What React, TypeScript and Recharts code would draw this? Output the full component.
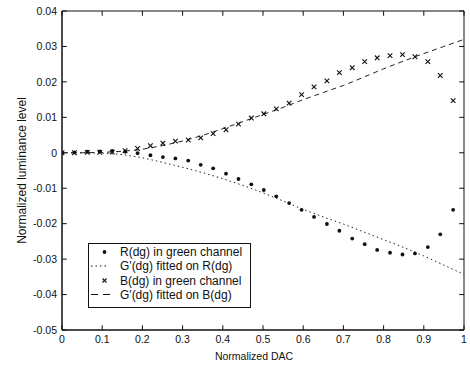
import React from 'react';
import { ComposedChart, Scatter, Line, XAxis, YAxis, Legend, ReferenceArea, ReferenceLine } from 'recharts';

// Normalized DAC levels of the measured points
const dacLevels = [
  0, 0.031, 0.063, 0.094, 0.125, 0.157, 0.188, 0.22, 0.251, 0.282, 0.314, 0.345,
  0.376, 0.408, 0.439, 0.471, 0.502, 0.533, 0.565, 0.596, 0.627, 0.659, 0.69,
  0.722, 0.753, 0.784, 0.816, 0.847, 0.878, 0.91, 0.941, 0.973,
];
// R(dg) in green channel
const rValues = [
  0, 0.0001, 0.0003, 0.0004, 0.0005, 0.0003, -0.0001, -0.0007, -0.0012, -0.0016,
  -0.0022, -0.0034, -0.0044, -0.0059, -0.0074, -0.0089, -0.0105, -0.0123, -0.0142,
  -0.0161, -0.0181, -0.0201, -0.022, -0.0242, -0.0258, -0.0274, -0.0282, -0.0287,
  -0.0284, -0.0266, -0.023, -0.0161,
];
// B(dg) in green channel
const bValues = [
  0, 0, 0.0001, 0.0001, 0.0002, 0.0006, 0.0012, 0.002, 0.0027, 0.0033, 0.0036,
  0.0042, 0.0054, 0.0065, 0.0081, 0.0098, 0.011, 0.0124, 0.014, 0.0164, 0.0186,
  0.0203, 0.0226, 0.024, 0.0257, 0.0268, 0.0274, 0.0277, 0.0271, 0.0257, 0.0218,
  0.0147,
];
// Fitted curves
const fitX = [
  0, 0.05, 0.1, 0.15, 0.2, 0.25, 0.3, 0.35, 0.4, 0.45, 0.5, 0.55, 0.6, 0.65, 0.7,
  0.75, 0.8, 0.85, 0.9, 0.95, 1,
];
const rFitValues = [
  0, 0, -0.0001, -0.0005, -0.0014, -0.0027, -0.0041, -0.0056, -0.0073, -0.0092,
  -0.0113, -0.0136, -0.016, -0.0181, -0.0201, -0.0223, -0.0245, -0.0267, -0.0291,
  -0.0317, -0.0343,
];
const bFitValues = [
  0, 0, 0.0001, 0.0004, 0.001, 0.002, 0.0033, 0.0049, 0.0068, 0.0088, 0.0108,
  0.0128, 0.015, 0.017, 0.019, 0.0213, 0.0237, 0.0259, 0.028, 0.03, 0.032,
];

const xTicks = [0, 0.1, 0.2, 0.3, 0.4, 0.5, 0.6, 0.7, 0.8, 0.9, 1];
const yTicks = [-0.05, -0.04, -0.03, -0.02, -0.01, 0, 0.01, 0.02, 0.03, 0.04];
const xDomain = [0, 1];
const yDomain = [-0.05, 0.04];
const legendLabels = [
  'R(dg) in green channel',
  "G'(dg) fitted on R(dg)",
  'B(dg) in green channel',
  "G'(dg) fitted on B(dg)",
];
const xLabel = 'Normalized DAC';
const yLabel = 'Normalized luminance level';

const rPoints = dacLevels.map((x, i) => ({ x, y: rValues[i] }));
const bPoints = dacLevels.map((x, i) => ({ x, y: bValues[i] }));
const rFit = fitX.map((x, i) => ({ x, y: rFitValues[i] }));
const bFit = fitX.map((x, i) => ({ x, y: bFitValues[i] }));

// inward tick length on all four edges, in axis units (~5px)
const vTickLen = (yDomain[1] - yDomain[0]) * 0.015;
const hTickLen = (xDomain[1] - xDomain[0]) * 0.012;

const FONT = '"Liberation Sans", Arial, sans-serif';
const INK = '#111';

const DotShape = (props: any) => {
  const { cx, cy } = props;
  if (cx == null || cy == null) return null;
  return <circle cx={cx} cy={cy} r={1.9} fill={INK} />;
};

const CrossShape = (props: any) => {
  const { cx, cy } = props;
  if (cx == null || cy == null) return null;
  const s = 2.3;
  return (
    <g stroke={INK} strokeWidth={1.1}>
      <line x1={cx - s} y1={cy - s} x2={cx + s} y2={cy + s} />
      <line x1={cx - s} y1={cy + s} x2={cx + s} y2={cy - s} />
    </g>
  );
};

const LegendBox = () => {
  const rows = [9, 23, 37.5, 51.5];
  return (
    <svg width={164} height={66} style={{ display: 'block', fontFamily: FONT }}>
      <rect x={0.5} y={0.5} width={162} height={64} fill="#fff" stroke={INK} strokeWidth={1} />
      <circle cx={16.5} cy={rows[0]} r={1.9} fill={INK} />
      <line x1={3} x2={21} y1={rows[1]} y2={rows[1]} stroke={INK} strokeDasharray="1.5 3" />
      <g stroke={INK} strokeWidth={1.1}>
        <line x1={14.5} y1={rows[2] - 2} x2={18.5} y2={rows[2] + 2} />
        <line x1={14.5} y1={rows[2] + 2} x2={18.5} y2={rows[2] - 2} />
      </g>
      <line x1={3} x2={22} y1={rows[3]} y2={rows[3]} stroke={INK} strokeDasharray="7 5" />
      {legendLabels.map((t, i) => (
        <text key={t} x={32} y={rows[i]} dominantBaseline="central" fontSize={12} fill={INK}>
          {t}
        </text>
      ))}
    </svg>
  );
};

const tickStyle = { fontSize: 10.5, fill: INK, fontFamily: FONT };

export default function App() {
  return (
    <div style={{ width: 470, height: 365, fontFamily: FONT }}>
      <style>{'html,body{margin:0;padding:0;overflow:hidden}#root{width:470px;height:365px;overflow:visible}'}</style>
      <ComposedChart width={470} height={365} margin={{ top: 11, right: 6, bottom: 0, left: 0 }}>
        <XAxis
          xAxisId="b"
          dataKey="x"
          type="number"
          domain={xDomain}
          ticks={xTicks}
          interval={0}
          allowDataOverflow
          height={35}
          tickLine={false}
          tickSize={0}
          tickMargin={6}
          stroke={INK}
          tick={tickStyle}
          label={{ value: xLabel, position: 'insideBottom', offset: 5, dx: -9, fontSize: 10.5, fill: INK, fontFamily: FONT }}
        />
        <YAxis
          yAxisId="l"
          dataKey="y"
          type="number"
          domain={yDomain}
          ticks={yTicks}
          interval={0}
          allowDataOverflow
          width={62}
          tickLine={false}
          tickSize={0}
          tickMargin={5}
          stroke={INK}
          tick={tickStyle}
          label={{ value: yLabel, angle: -90, position: 'insideLeft', offset: 22, style: { textAnchor: 'middle' }, fontSize: 12, fill: INK, fontFamily: FONT }}
        />
        <ReferenceArea
          xAxisId="b"
          yAxisId="l"
          x1={xDomain[0]}
          x2={xDomain[1]}
          y1={yDomain[0]}
          y2={yDomain[1]}
          fill="none"
          fillOpacity={0}
          stroke={INK}
          strokeWidth={1}
          ifOverflow="visible"
        />
        {xTicks.map((t) => (
          <ReferenceLine
            key={'txt' + t}
            xAxisId="b"
            yAxisId="l"
            segment={[{ x: t, y: yDomain[1] }, { x: t, y: yDomain[1] - vTickLen }]}
            stroke={INK}
            strokeWidth={1}
            ifOverflow="visible"
          />
        ))}
        {xTicks.map((t) => (
          <ReferenceLine
            key={'txb' + t}
            xAxisId="b"
            yAxisId="l"
            segment={[{ x: t, y: yDomain[0] }, { x: t, y: yDomain[0] + vTickLen }]}
            stroke={INK}
            strokeWidth={1}
            ifOverflow="visible"
          />
        ))}
        {yTicks.map((t) => (
          <ReferenceLine
            key={'tyr' + t}
            xAxisId="b"
            yAxisId="l"
            segment={[{ x: xDomain[1], y: t }, { x: xDomain[1] - hTickLen, y: t }]}
            stroke={INK}
            strokeWidth={1}
            ifOverflow="visible"
          />
        ))}
        {yTicks.map((t) => (
          <ReferenceLine
            key={'tyl' + t}
            xAxisId="b"
            yAxisId="l"
            segment={[{ x: xDomain[0], y: t }, { x: xDomain[0] + hTickLen, y: t }]}
            stroke={INK}
            strokeWidth={1}
            ifOverflow="visible"
          />
        ))}
        <Line
          xAxisId="b"
          yAxisId="l"
          data={rFit}
          dataKey="y"
          type="linear"
          dot={false}
          activeDot={false}
          stroke="#222"
          strokeWidth={1}
          strokeDasharray="1.5 3"
          isAnimationActive={false}
        />
        <Line
          xAxisId="b"
          yAxisId="l"
          data={bFit}
          dataKey="y"
          type="linear"
          dot={false}
          activeDot={false}
          stroke="#222"
          strokeWidth={1}
          strokeDasharray="5 4"
          isAnimationActive={false}
        />
        <Scatter xAxisId="b" yAxisId="l" data={rPoints} dataKey="y" shape={DotShape} isAnimationActive={false} />
        <Scatter xAxisId="b" yAxisId="l" data={bPoints} dataKey="y" shape={CrossShape} isAnimationActive={false} />
        <Legend
          layout="vertical"
          align="center"
          verticalAlign="middle"
          content={() => <LegendBox />}
          wrapperStyle={{ left: 88, top: 243, width: 164, height: 66 }}
        />
      </ComposedChart>
    </div>
  );
}
